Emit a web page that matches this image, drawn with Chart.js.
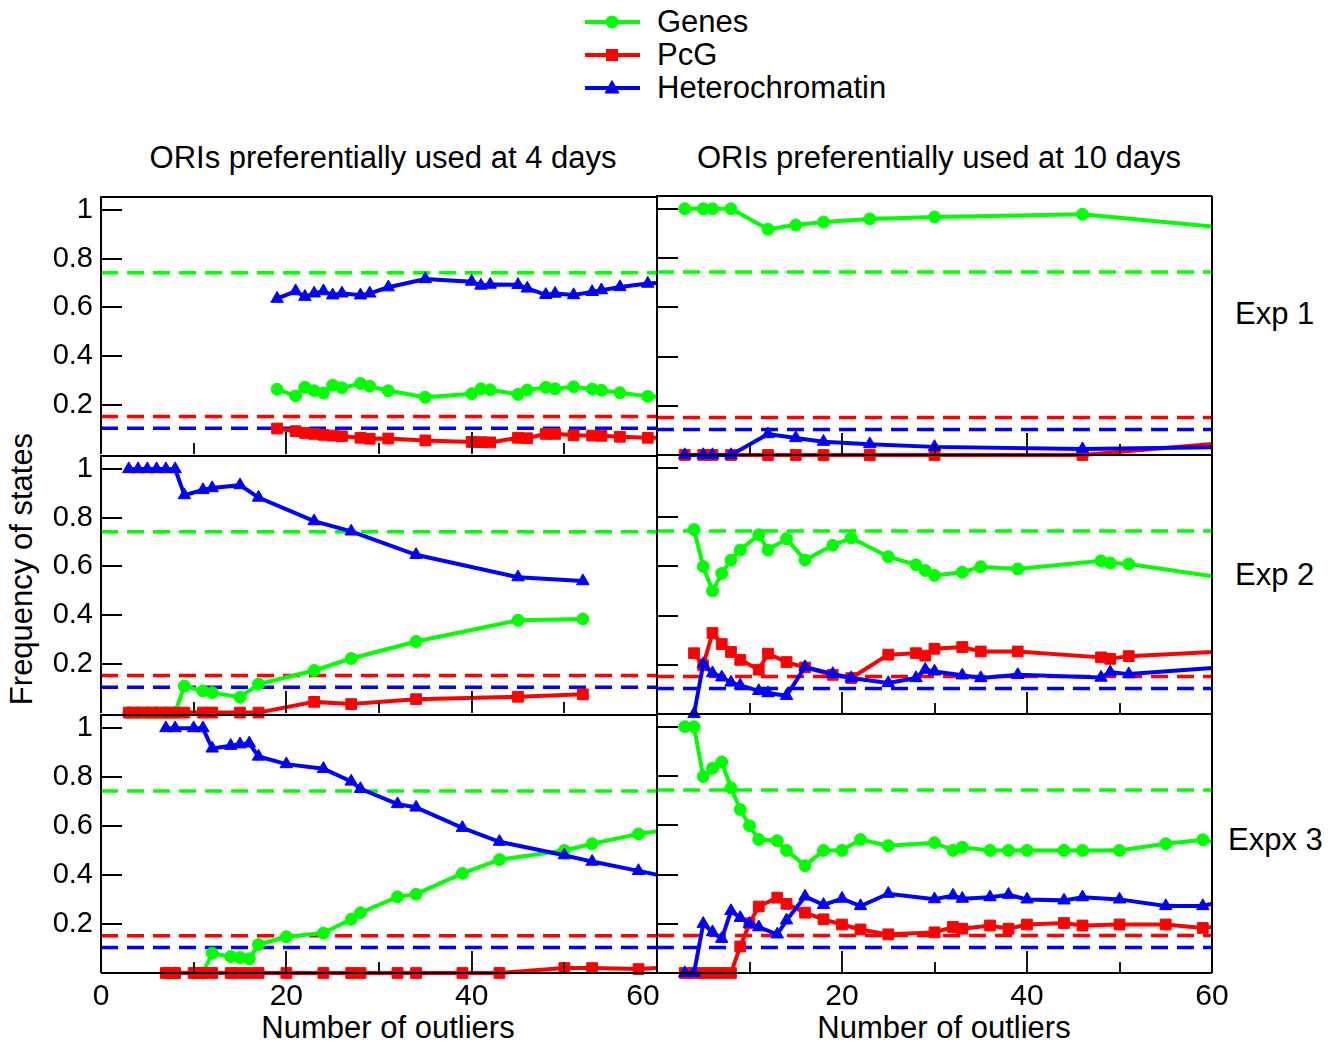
<!DOCTYPE html>
<html>
<head>
<meta charset="utf-8">
<script src="https://cdn.jsdelivr.net/npm/chart.js@4/dist/chart.umd.min.js"></script>
<style>
  html, body { margin: 0; padding: 0; background: #fff; }
  body { width: 1337px; height: 1045px; position: relative; overflow: hidden;
         font-family: 'Liberation Sans', Arial, sans-serif; color: #000; }
  canvas { position: absolute; }
  .lbl { position: absolute; font-size: 31px; line-height: 36px; white-space: nowrap; }
  .leg { position: absolute; left: 582px; height: 36px; display: flex; align-items: center; }
  .leg svg { display: block; }
  .leg span { font-size: 31px; line-height: 36px; margin-left: 15px; }
</style>
</head>
<body>

<div class="lbl" style="left:83px;width:600px;text-align:center;top:140px">ORIs preferentially used at 4 days</div>
<div class="lbl" style="left:639px;width:600px;text-align:center;top:140px">ORIs preferentially used at 10 days</div>
<div class="lbl" style="left:1235px;top:296px">Exp 1</div>
<div class="lbl" style="left:1235px;top:557px">Exp 2</div>
<div class="lbl" style="left:1228px;top:822px">Expx 3</div>
<div class="lbl" style="left:-178px;width:400px;text-align:center;top:551px;transform:rotate(-90deg)">Frequency of states</div>
<div class="lbl" style="left:188px;width:400px;text-align:center;top:1010px">Number of outliers</div>
<div class="lbl" style="left:744px;width:400px;text-align:center;top:1010px">Number of outliers</div>
<div id="legend"></div>

<script>
// ---- tick layout ----
const xTickValues = [0, 20, 40, 60];
const xMinorTickValues = [10, 30, 50];
const yTickValues = [0.2, 0.4, 0.6, 0.8, 1];

// ---- genome-wide background frequencies (dashed lines) ----
const baselineGenes = 0.743;
const baselinePcG = 0.152;
const baselineHet = 0.104;

// ---- Exp 1, ORIs preferentially used at 4 days ----
const outliersExp1Day4 = [19, 21, 22, 23, 24, 25, 26, 28, 29, 31, 35, 40, 41, 42, 45, 46, 48, 49, 51, 53, 54, 56, 59, 62];
const genesExp1Day4 = [0.264, 0.237, 0.272, 0.258, 0.249, 0.281, 0.270, 0.288, 0.277, 0.258, 0.231, 0.246, 0.266, 0.262, 0.243, 0.261, 0.272, 0.266, 0.274, 0.265, 0.260, 0.250, 0.235, 0.229];
const pcgExp1Day4 = [0.103, 0.092, 0.085, 0.081, 0.077, 0.074, 0.071, 0.065, 0.061, 0.062, 0.054, 0.048, 0.047, 0.046, 0.065, 0.063, 0.081, 0.081, 0.075, 0.074, 0.073, 0.069, 0.065, 0.066];
const hetExp1Day4 = [0.636, 0.667, 0.644, 0.658, 0.667, 0.650, 0.658, 0.650, 0.658, 0.683, 0.717, 0.706, 0.690, 0.694, 0.693, 0.678, 0.652, 0.657, 0.651, 0.664, 0.671, 0.684, 0.698, 0.705];

// ---- Exp 1, ORIs preferentially used at 10 days ----
const outliersExp1Day10 = [3, 5, 6, 8, 12, 15, 18, 23, 30, 46, 64];
const genesExp1Day10 = [1, 1, 1, 1, 0.917, 0.934, 0.946, 0.959, 0.967, 0.978, 0.914];
const pcgExp1Day10 = [0, 0, 0, 0, 0, 0, 0, 0, 0, 0, 0.057];
const hetExp1Day10 = [0, 0, 0, 0, 0.085, 0.069, 0.054, 0.044, 0.033, 0.024, 0.033];

// ---- Exp 2, ORIs preferentially used at 4 days ----
const outliersExp2Day4 = [3, 4, 5, 6, 7, 8, 9, 11, 12, 15, 17, 23, 27, 34, 45, 52];
const genesExp2Day4 = [0, 0, 0, 0, 0, 0, 0.109, 0.089, 0.082, 0.063, 0.117, 0.173, 0.222, 0.292, 0.379, 0.384];
const pcgExp2Day4 = [0, 0, 0, 0, 0, 0, 0, 0, 0, 0, 0, 0.044, 0.035, 0.055, 0.065, 0.075];
const hetExp2Day4 = [1, 1, 1, 1, 1, 1, 0.893, 0.914, 0.922, 0.934, 0.883, 0.786, 0.744, 0.648, 0.556, 0.540];

// ---- Exp 2, ORIs preferentially used at 10 days ----
const outliersExp2Day10 = [4, 5, 6, 7, 8, 9, 11, 12, 14, 16, 19, 21, 25, 28, 29, 30, 33, 35, 39, 48, 49, 51, 64];
const genesExp2Day10 = [0.749, 0.599, 0.500, 0.571, 0.625, 0.666, 0.728, 0.666, 0.712, 0.625, 0.685, 0.715, 0.639, 0.606, 0.583, 0.563, 0.576, 0.598, 0.589, 0.622, 0.613, 0.609, 0.537];
const pcgExp2Day10 = [0.247, 0.198, 0.329, 0.284, 0.252, 0.220, 0.180, 0.245, 0.211, 0.189, 0.159, 0.146, 0.241, 0.247, 0.237, 0.265, 0.272, 0.254, 0.254, 0.230, 0.224, 0.235, 0.260];
const hetExp2Day10 = [0, 0.203, 0.166, 0.149, 0.128, 0.116, 0.094, 0.085, 0.074, 0.191, 0.163, 0.146, 0.126, 0.146, 0.180, 0.173, 0.157, 0.146, 0.159, 0.148, 0.170, 0.162, 0.198];

// ---- Exp 3, ORIs preferentially used at 4 days ----
const outliersExp3Day4 = [7, 8, 10, 11, 12, 14, 15, 16, 17, 20, 24, 27, 28, 32, 34, 39, 43, 50, 53, 58, 62];
const genesExp3Day4 = [0, 0, 0, 0, 0.081, 0.067, 0.063, 0.058, 0.116, 0.148, 0.163, 0.219, 0.246, 0.311, 0.322, 0.407, 0.463, 0.500, 0.528, 0.568, 0.590];
const pcgExp3Day4 = [0, 0, 0, 0, 0, 0, 0, 0, 0, 0, 0, 0, 0, 0, 0, 0, 0, 0.020, 0.020, 0.016, 0.025];
const hetExp3Day4 = [1, 1, 1, 1, 0.917, 0.928, 0.934, 0.938, 0.884, 0.853, 0.834, 0.782, 0.752, 0.690, 0.676, 0.593, 0.536, 0.481, 0.455, 0.417, 0.385];

// ---- Exp 3, ORIs preferentially used at 10 days ----
const outliersExp3Day10 = [3, 4, 5, 6, 7, 8, 9, 10, 11, 13, 14, 16, 18, 20, 22, 25, 30, 32, 33, 36, 38, 40, 44, 46, 50, 55, 59, 62];
const genesExp3Day10 = [1, 1, 0.798, 0.832, 0.857, 0.752, 0.664, 0.598, 0.542, 0.537, 0.498, 0.436, 0.498, 0.498, 0.542, 0.517, 0.529, 0.498, 0.511, 0.498, 0.498, 0.498, 0.498, 0.498, 0.498, 0.525, 0.541, 0.514];
const pcgExp3Day10 = [0, 0, 0, 0, 0, 0, 0.108, 0.202, 0.270, 0.306, 0.281, 0.245, 0.218, 0.197, 0.177, 0.157, 0.165, 0.187, 0.180, 0.193, 0.180, 0.197, 0.203, 0.193, 0.197, 0.197, 0.183, 0.195];
const hetExp3Day10 = [0, 0, 0.200, 0.166, 0.139, 0.252, 0.224, 0.200, 0.186, 0.157, 0.214, 0.311, 0.277, 0.302, 0.272, 0.322, 0.300, 0.315, 0.302, 0.308, 0.318, 0.299, 0.295, 0.308, 0.299, 0.272, 0.272, 0.299];

// ---- styling ----
const GREEN = 'rgb(0,255,0)';
const RED = 'rgb(255,0,0)';
const BLUE = 'rgb(0,0,255)';
const series = [
  { label: 'Genes', color: GREEN, pointStyle: 'circle', radius: 6, order: 3, baseline: baselineGenes },
  { label: 'PcG', color: RED, pointStyle: 'rect', radius: 7.6, order: 2, baseline: baselinePcG },
  { label: 'Heterochromatin', color: BLUE, pointStyle: 'triangle', radius: 7.2, order: 1, baseline: baselineHet }
];

Chart.defaults.font.family = "'Liberation Sans', Arial, sans-serif";
Chart.defaults.font.size = 30;
Chart.defaults.color = '#000';

// frame edges plus inward tick marks (drawn above the data);
// shared edges between neighbouring panels are drawn only once
const frameAndTicks = {
  id: 'frameAndTicks',
  afterDatasetsDraw(chart, args, opts) {
    const { ctx, chartArea: a, scales } = chart;
    const xs = scales.x, ys = scales.y;
    const L = Math.round(a.left), R = Math.round(a.right), T = Math.round(a.top), B = Math.round(a.bottom);
    ctx.save();
    ctx.strokeStyle = '#000';
    ctx.lineWidth = 1.8;
    ctx.beginPath();
    xTickValues.concat(xMinorTickValues).forEach(v => {
      const p = Math.round(xs.getPixelForValue(v));
      const len = xMinorTickValues.includes(v) ? 11 : 22;
      ctx.moveTo(p, B);
      ctx.lineTo(p, B - len);
    });
    yTickValues.forEach(v => {
      const p = Math.round(ys.getPixelForValue(v));
      ctx.moveTo(L, p);
      ctx.lineTo(L + 21, p);
    });
    ctx.stroke();
    ctx.lineWidth = 2;
    ctx.beginPath();
    ctx.moveTo(L, B); ctx.lineTo(L, T); ctx.lineTo(R, T);
    if (opts.right) { ctx.moveTo(R, T); ctx.lineTo(R, B); }
    if (opts.bottom) { ctx.moveTo(L, B); ctx.lineTo(R, B); }
    ctx.stroke();
    ctx.restore();
  }
};

// nudges the last bottom label of the left column so it clears the panel join
const labelNudge = {
  id: 'labelNudge',
  beforeDraw(chart, args, opts) {
    if (!opts.dx) return;
    const items = chart.scales.x.getLabelItems();
    const last = items[items.length - 1];
    if (last && last.options && last.options.translation) last.options.translation[0] += opts.dx;
  }
};

const COL_LEFT = [101, 657];
const COL_WIDTH = [556, 555];
const ROW_TOP = [196, 455, 714];
const ROW_HEIGHT = 259;
const PAD_T = 24, PAD_R = 40;

const panels = [
  { col: 0, row: 0, x: outliersExp1Day4, g: genesExp1Day4, p: pcgExp1Day4, h: hetExp1Day4 },
  { col: 1, row: 0, x: outliersExp1Day10, g: genesExp1Day10, p: pcgExp1Day10, h: hetExp1Day10 },
  { col: 0, row: 1, x: outliersExp2Day4, g: genesExp2Day4, p: pcgExp2Day4, h: hetExp2Day4 },
  { col: 1, row: 1, x: outliersExp2Day10, g: genesExp2Day10, p: pcgExp2Day10, h: hetExp2Day10 },
  { col: 0, row: 2, x: outliersExp3Day4, g: genesExp3Day4, p: pcgExp3Day4, h: hetExp3Day4 },
  { col: 1, row: 2, x: outliersExp3Day10, g: genesExp3Day10, p: pcgExp3Day10, h: hetExp3Day10 }
];

panels.forEach(pn => {
  const yAxisW = pn.col === 0 ? COL_LEFT[0] : 24;
  const xAxisH = pn.row === 2 ? 60 : 24;
  const canvasLeft = COL_LEFT[pn.col] - yAxisW;
  const canvasTop = ROW_TOP[pn.row] - PAD_T;
  const w = yAxisW + COL_WIDTH[pn.col] + PAD_R;
  const hgt = PAD_T + ROW_HEIGHT + xAxisH;

  const cv = document.createElement('canvas');
  cv.width = w; cv.height = hgt;
  cv.style.left = canvasLeft + 'px';
  cv.style.top = canvasTop + 'px';
  cv.style.width = w + 'px';
  cv.style.height = hgt + 'px';
  document.body.appendChild(cv);

  const values = [pn.g, pn.p, pn.h];
  const datasets = series.map((s, k) => ({
    label: s.label,
    data: pn.x.map((xv, i) => ({ x: xv, y: values[k][i] })),
    borderColor: s.color,
    backgroundColor: s.color,
    borderWidth: 4,
    pointStyle: s.pointStyle,
    pointRadius: s.radius,
    pointBorderWidth: 1,
    pointBackgroundColor: s.color,
    pointBorderColor: s.color,
    tension: 0,
    order: s.order,
    clip: { left: false, top: false, right: 0, bottom: false }
  }));
  series.forEach(s => {
    datasets.push({
      label: s.label + ' background',
      data: [{ x: 0, y: s.baseline }, { x: 60, y: s.baseline }],
      borderColor: s.color,
      borderWidth: 3.5,
      borderDash: [17, 9],
      pointRadius: 0,
      order: 10
    });
  });

  new Chart(cv, {
    type: 'line',
    data: { datasets },
    plugins: [labelNudge, frameAndTicks],
    options: {
      responsive: false,
      animation: false,
      devicePixelRatio: 1,
      events: [],
      layout: { padding: { top: PAD_T, right: PAD_R, bottom: 0, left: 0 } },
      plugins: {
        legend: { display: false },
        tooltip: { enabled: false },
        frameAndTicks: { right: pn.col === 1, bottom: pn.row === 2 },
        labelNudge: { dx: (pn.col === 0 && pn.row === 2) ? -14 : 0 }
      },
      scales: {
        x: {
          type: 'linear', min: 0, max: 60,
          afterBuildTicks(s) { s.ticks = xTickValues.map(v => ({ value: v })); },
          afterFit(s) { s.height = xAxisH; },
          grid: { display: false, drawTicks: false },
          border: { display: false },
          ticks: {
            display: pn.row === 2,
            padding: 6,
            maxRotation: 0,
            autoSkip: false,
            font: { size: 30 },
            callback: v => (pn.col === 1 && v === 0) ? '' : String(v)
          }
        },
        y: {
          type: 'linear', min: 0, max: 1.052,
          afterBuildTicks(s) { s.ticks = yTickValues.map(v => ({ value: v })); },
          afterFit(s) { s.width = yAxisW; },
          grid: { display: false, drawTicks: false },
          border: { display: false },
          ticks: {
            display: pn.col === 0,
            padding: 8,
            font: { size: 29 },
            callback: v => String(v)
          }
        }
      }
    }
  });
});

// legend: line with marker, then the series name
const legendBox = document.getElementById('legend');
const legendRowCenters = [22, 55, 88];
series.forEach((s, k) => {
  const row = document.createElement('div');
  row.className = 'leg';
  row.style.top = (legendRowCenters[k] - 18) + 'px';
  let marker;
  if (s.pointStyle === 'circle') marker = `<circle cx="30" cy="18" r="6.5" fill="${s.color}"/>`;
  else if (s.pointStyle === 'rect') marker = `<rect x="24" y="12" width="12" height="12" fill="${s.color}"/>`;
  else marker = `<polygon points="30,10.5 37,23 23,23" fill="${s.color}" stroke="${s.color}" stroke-width="1"/>`;
  row.innerHTML = `<svg width="60" height="36"><line x1="3" y1="18" x2="58" y2="18" stroke="${s.color}" stroke-width="4"/>${marker}</svg><span>${s.label}</span>`;
  legendBox.appendChild(row);
});
</script>
</body>
</html>
